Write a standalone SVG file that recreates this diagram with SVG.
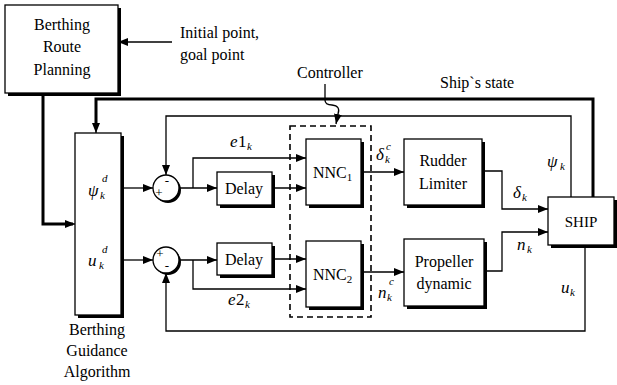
<svg xmlns="http://www.w3.org/2000/svg" width="617" height="385" viewBox="0 0 617 385">
<style>
.box{fill:#fff;stroke:#000;stroke-width:1.3}
.sh{fill:#000}
.ln{fill:none;stroke:#000;stroke-width:1.3}
.thick{fill:none;stroke:#000;stroke-width:3}
.t{font-family:"Liberation Serif","Times New Roman",serif;font-size:16px;fill:#000}
.c{text-anchor:middle}
.sg{font-family:"Liberation Serif",serif;font-size:13px;fill:#000;text-anchor:middle}
.m{font-family:"Liberation Serif",serif;font-style:italic;font-size:17px;fill:#000}
.s{font-family:"Liberation Serif",serif;font-style:italic;font-size:11px;fill:#000}
.dash{fill:none;stroke:#000;stroke-width:1.6;stroke-dasharray:6,4}
</style>
<defs>
<marker id="ah" markerWidth="10" markerHeight="8" refX="10" refY="4" orient="auto" markerUnits="userSpaceOnUse">
<path d="M0,0 L10,4 L0,8 Z" fill="#000"/>
</marker>
</defs>

<g id="route">
<rect class="sh" x="8" y="8" width="113" height="88"/>
<rect class="box" x="5" y="5" width="113" height="88"/>
<text class="t c" x="62" y="30">Berthing</text>
<text class="t c" x="62" y="52">Route</text>
<text class="t c" x="62" y="75">Planning</text>
</g>
<g id="init-label">
<text class="t" x="180" y="38">Initial point,</text>
<text class="t" x="180" y="60">goal point</text>
</g>
<g id="guidance">
<rect class="sh" x="78" y="136" width="46" height="182"/>
<rect class="box" x="75" y="133" width="46" height="182"/>
<text class="m" x="88" y="196">ψ</text>
<text class="s" x="102" y="182">d</text>
<text class="s" x="100" y="199">k</text>
<text class="m" x="88" y="266">u</text>
<text class="s" x="102" y="253">d</text>
<text class="s" x="99" y="269">k</text>
<text class="t c" x="97" y="335">Berthing</text>
<text class="t c" x="97" y="356">Guidance</text>
<text class="t c" x="97" y="377">Algorithm</text>
</g>
<g id="sum1">
<circle class="sh" cx="168" cy="190" r="13"/>
<circle class="box" cx="166" cy="188" r="13"/>
<text class="sg" x="159" y="197">+</text>
<text class="sg" x="167" y="185">-</text>
</g>
<g id="sum2">
<circle class="sh" cx="168" cy="262" r="13"/>
<circle class="box" cx="166" cy="260" r="13"/>
<text class="sg" x="160" y="258">+</text>
<text class="sg" x="167" y="270">-</text>
</g>
<g id="delay1">
<rect class="sh" x="220" y="175" width="55" height="33"/>
<rect class="box" x="217" y="172" width="55" height="33"/>
<text class="t c" x="244" y="194">Delay</text>
</g>
<g id="delay2">
<rect class="sh" x="220" y="246" width="55" height="32"/>
<rect class="box" x="217" y="243" width="55" height="32"/>
<text class="t c" x="244" y="265">Delay</text>
</g>
<g id="controller">
<rect class="dash" x="290" y="126" width="81" height="191"/>
<text class="t" x="297" y="78">Controller</text>
</g>
<g id="nnc1">
<rect class="sh" x="309" y="142" width="55" height="66"/>
<rect class="box" x="306" y="139" width="55" height="66"/>
<text class="t" x="313" y="178">NNC<tspan style="font-size:11px" dy="3">1</tspan></text>
</g>
<g id="nnc2">
<rect class="sh" x="309" y="244" width="55" height="66"/>
<rect class="box" x="306" y="241" width="55" height="66"/>
<text class="t" x="313" y="280">NNC<tspan style="font-size:11px" dy="3">2</tspan></text>
</g>
<g id="rudder">
<rect class="sh" x="407" y="142" width="78" height="66"/>
<rect class="box" x="404" y="139" width="78" height="66"/>
<text class="t c" x="443" y="166">Rudder</text>
<text class="t c" x="443" y="189">Limiter</text>
</g>
<g id="propeller">
<rect class="sh" x="407" y="242" width="80" height="67"/>
<rect class="box" x="404" y="239" width="80" height="67"/>
<text class="t c" x="444" y="267">Propeller</text>
<text class="t c" x="444" y="289">dynamic</text>
</g>
<g id="ship">
<rect class="sh" x="551" y="200" width="66" height="48"/>
<rect class="box" x="548" y="197" width="66" height="48"/>
<text class="t c" x="581" y="227" style="font-size:15px">SHIP</text>
</g>

<g id="connectors">
<line class="ln" x1="172" y1="42" x2="118" y2="42" marker-end="url(#ah)"/>
<path class="thick" d="M43,93 V224 H73" />
<path class="ln" d="M60,224 H75" marker-end="url(#ah)"/>
<line class="ln" x1="121" y1="188" x2="153" y2="188" marker-end="url(#ah)"/>
<line class="ln" x1="121" y1="260" x2="153" y2="260" marker-end="url(#ah)"/>
<line class="ln" x1="179" y1="188" x2="217" y2="188" marker-end="url(#ah)"/>
<path class="ln" d="M193,188 V158 H306" marker-end="url(#ah)"/>
<line class="ln" x1="272" y1="188" x2="306" y2="188" marker-end="url(#ah)"/>
<line class="ln" x1="179" y1="260" x2="217" y2="260" marker-end="url(#ah)"/>
<path class="ln" d="M193,260 V289 H306" marker-end="url(#ah)"/>
<line class="ln" x1="272" y1="259" x2="306" y2="259" marker-end="url(#ah)"/>
<line class="ln" x1="361" y1="172" x2="404" y2="172" marker-end="url(#ah)"/>
<line class="ln" x1="361" y1="272" x2="404" y2="272" marker-end="url(#ah)"/>
<path class="ln" d="M482,171 H502 V209 H548" marker-end="url(#ah)"/>
<path class="ln" d="M484,271 H502 V232 H548" marker-end="url(#ah)"/>
<path class="thick" d="M593,197 V99 H96 V124"/>
<path class="ln" d="M96,120 V133" marker-end="url(#ah)"/>
<path class="ln" d="M571,197 V116 H166 V175" marker-end="url(#ah)"/>
<path class="ln" d="M585,245 V331 H166 V273" marker-end="url(#ah)"/>
<path class="ln" d="M325,84 V100 Q325,105 332,105 Q341,106 338,114 L336,124" marker-end="url(#ah)"/>
</g>

<g id="labels">
<text class="t" x="440" y="88">Ship`s state</text>
<text class="m" x="230" y="147">e</text><text class="t" x="238" y="147" style="font-size:17px">1</text><text class="s" x="247" y="150">k</text>
<text class="m" x="228" y="305">e</text><text class="t" x="236" y="305" style="font-size:17px">2</text><text class="s" x="245" y="308">k</text>
<text class="m" x="376" y="160">δ</text><text class="s" x="386" y="150">c</text><text class="s" x="385" y="163">k</text>
<text class="m" x="513" y="198">δ</text><text class="s" x="522" y="201">k</text>
<text class="m" x="547" y="167">ψ</text><text class="s" x="560" y="170">k</text>
<text class="m" x="378" y="298">n</text><text class="s" x="389" y="285">c</text><text class="s" x="387" y="301">k</text>
<text class="m" x="517" y="250">n</text><text class="s" x="527" y="253">k</text>
<text class="m" x="561" y="293">u</text><text class="s" x="570" y="296">k</text>
</g>
</svg>
